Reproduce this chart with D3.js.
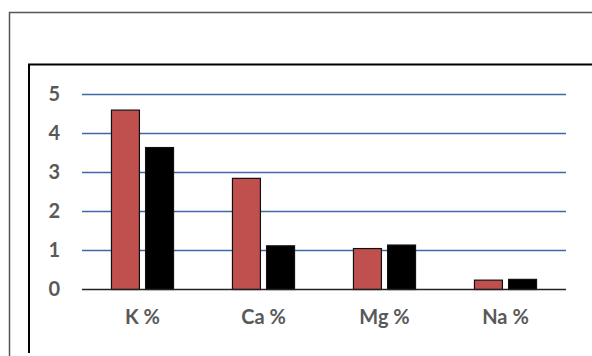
<!DOCTYPE html>
<html>
<head>
<meta charset="utf-8">
<script src="https://cdn.jsdelivr.net/npm/d3@7"></script>
<style>
  body { margin: 0; background: #fff; }
  svg { display: block; }
  .tick text { font-family: Lato, "Open Sans", sans-serif; font-weight: bold; fill: #595959; }
</style>
</head>
<body>
<script>
const categories = ['K %', 'Ca %', 'Mg %', 'Na %']
const series = ['s1', 's2']
const s1Values = [4.6, 2.85, 1.05, 0.24]
const s2Values = [3.64, 1.12, 1.14, 0.26]
const yTicks = [0, 1, 2, 3, 4, 5]
const colors = ['#C0504D', '#000000']

const W = 592, H = 356
const margin = {top: 94.5, bottom: 66.5, left: 82, right: 26}
const width = W - margin.left - margin.right
const height = H - margin.top - margin.bottom

const data = categories.map((c, i) => ({cat: c, vals: [s1Values[i], s2Values[i]]}))

const svg = d3.select('body')
  .append('svg')
  .attr('width', W)
  .attr('height', H)

// outer frame and inner plot-area frame (both run off the right edge)
svg.append('path')
  .attr('d', `M9.5,${H} V12.5 H${W}`)
  .attr('fill', 'none').attr('stroke', '#555').attr('stroke-width', 1.5)
svg.append('path')
  .attr('d', `M29,353 V64.5 H${W}`)
  .attr('fill', 'none').attr('stroke', '#000').attr('stroke-width', 2)

const g = svg.append('g')
  .attr('transform', `translate(${margin.left},${margin.top})`)

const xscale = d3.scaleBand().domain(categories).range([0, width]).paddingInner(0.487).paddingOuter(0.2435)
const xsub = d3.scaleBand().domain(series).range([0, xscale.bandwidth()]).paddingInner(0.18)
const yscale = d3.scaleLinear().domain([0, 5]).range([height, 0])

// gridlines
g.selectAll('line.grid')
  .data(yTicks.filter(d => d > 0))
  .join('line')
  .attr('class', 'grid')
  .attr('x1', 0).attr('x2', width)
  .attr('y1', d => yscale(d)).attr('y2', d => yscale(d))
  .attr('stroke', '#3F68A6').attr('stroke-width', 1.6)

// y axis labels
const yaxis = d3.axisLeft(yscale).tickValues(yTicks).tickSize(0).tickPadding(22).tickFormat(d3.format('d'))
g.append('g').call(yaxis)
  .call(a => a.select('.domain').remove())
  .selectAll('text').attr('font-size', 20)

// bars
const grp = g.selectAll('g.cat')
  .data(data)
  .join('g')
  .attr('class', 'cat')
  .attr('transform', d => `translate(${xscale(d.cat)},0)`)

grp.selectAll('rect')
  .data(d => d.vals.map((v, i) => ({key: series[i], v, i})))
  .join('rect')
  .attr('x', d => xsub(d.key))
  .attr('width', xsub.bandwidth())
  .attr('y', d => yscale(d.v))
  .attr('height', d => yscale(0) - yscale(d.v))
  .attr('fill', d => colors[d.i])
  .attr('stroke', '#111')
  .attr('stroke-width', 1.2)

// baseline
g.append('line')
  .attr('x1', 0).attr('x2', width)
  .attr('y1', yscale(0)).attr('y2', yscale(0))
  .attr('stroke', '#222').attr('stroke-width', 1.6)

// x axis labels
const xaxis = d3.axisBottom(xscale).tickSize(0).tickPadding(20)
g.append('g')
  .attr('transform', `translate(0,${height})`)
  .call(xaxis)
  .call(a => a.select('.domain').remove())
  .selectAll('text').attr('font-size', 20)
</script>
</body>
</html>
